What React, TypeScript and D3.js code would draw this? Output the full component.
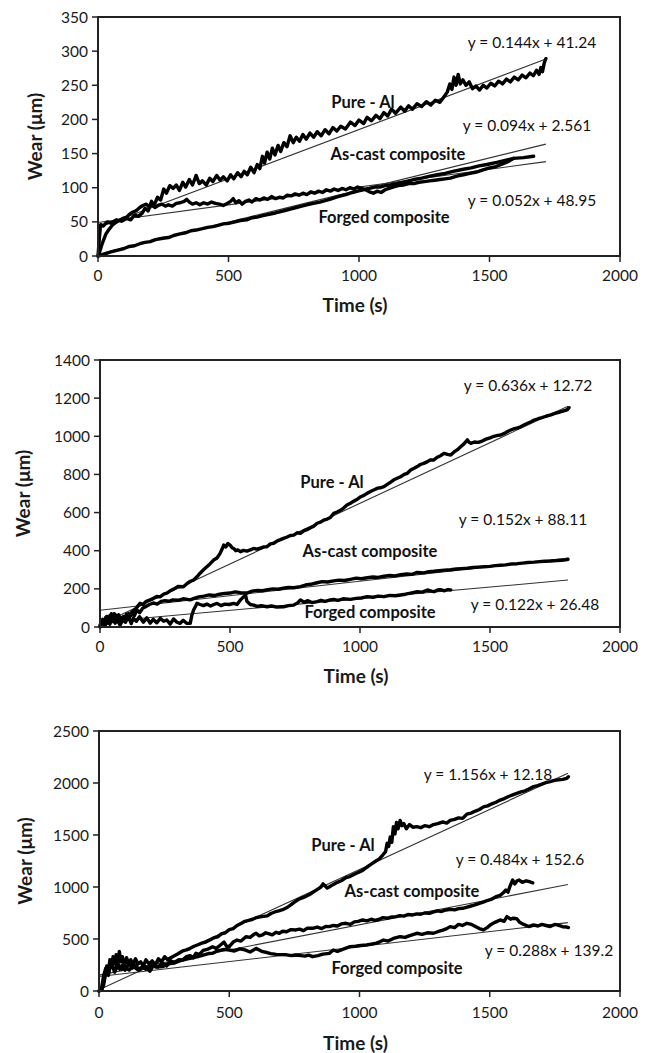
import React from "react";
import * as d3 from "d3";

// ---------- DATA ----------
const X_TICKS = [0, 500, 1000, 1500, 2000];
const P1_Y_TICKS = [0, 50, 100, 150, 200, 250, 300, 350];
const P2_Y_TICKS = [0, 200, 400, 600, 800, 1000, 1200, 1400];
const P3_Y_TICKS = [0, 500, 1000, 1500, 2000, 2500];

const SERIES_NAMES = ["Pure - Al", "As-cast composite", "Forged composite"];

// panel 1 (slopes / intercepts of linear fits)
const P1_SLOPES = [0.144, 0.094, 0.052];
const P1_INTERCEPTS = [41.24, 2.561, 48.95];
const P1_EQS = ["y = 0.144x + 41.24", "y = 0.094x + 2.561", "y = 0.052x + 48.95"];
const P1_FIT_END = 1716;

const P2_SLOPES = [0.636, 0.152, 0.122];
const P2_INTERCEPTS = [12.72, 88.11, 26.48];
const P2_EQS = ["y = 0.636x + 12.72", "y = 0.152x + 88.11", "y = 0.122x + 26.48"];
const P2_FIT_END = 1800;

const P3_SLOPES = [1.156, 0.484, 0.288];
const P3_INTERCEPTS = [12.18, 152.6, 139.2];
const P3_EQS = ["y = 1.156x + 12.18", "y = 0.484x + 152.6", "y = 0.288x + 139.2"];
const P3_FIT_END = 1800;

const P1_PURE = [[0,0],[6,30],[10,46],[20,44],[35,50],[50,48],[70,53],[90,51],[110,55],[125,53],[140,60],[155,58],[170,63],[180,70],[192,66],[205,80],[215,74],[228,86],[240,82],[252,98],[262,92],[275,103],[288,99],[300,104],[312,96],[325,108],[336,101],[350,112],[362,104],[376,118],[388,106],[400,110],[415,104],[428,114],[440,109],[455,118],[468,111],[480,116],[495,110],[508,119],[520,113],[535,122],[548,116],[560,124],[572,119],[585,130],[598,122],[610,134],[620,128],[630,146],[638,136],[648,152],[658,142],[668,158],[678,148],[690,162],[700,153],[712,166],[724,160],[736,176],[748,166],[760,174],[772,168],[785,178],[798,171],[812,180],[826,174],[840,182],[855,176],[870,185],[885,179],[900,188],[915,183],[930,190],[948,186],[967,196],[985,191],[1000,199],[1018,194],[1031,203],[1048,198],[1065,206],[1080,201],[1095,210],[1110,205],[1125,215],[1140,209],[1160,218],[1175,212],[1190,220],[1205,215],[1222,223],[1240,219],[1258,226],[1275,221],[1292,228],[1310,225],[1325,233],[1338,240],[1348,252],[1356,244],[1364,262],[1372,250],[1380,266],[1388,252],[1398,258],[1410,250],[1422,255],[1435,245],[1448,249],[1462,243],[1476,250],[1490,246],[1505,253],[1520,249],[1535,256],[1550,252],[1565,259],[1580,255],[1595,262],[1610,258],[1625,265],[1640,261],[1655,268],[1668,264],[1680,272],[1690,266],[1697,276],[1703,270],[1710,283],[1716,289]];

const P1_CAST = [[0,0],[20,2],[40,5],[60,7],[80,9],[100,11],[120,14],[140,15],[160,18],[180,20],[200,21],[220,24],[248,26],[270,27],[290,30],[310,32],[335,34],[356,37],[376,38],[400,40],[420,42],[440,43],[460,45],[480,47],[504,48],[525,50],[545,52],[570,53],[590,56],[610,57],[632,59],[655,61],[680,63],[700,65],[720,67],[740,69],[760,71],[780,73],[800,75],[825,77],[850,79],[870,81],[888,83],[910,86],[930,88],[950,90],[975,93],[995,95],[1016,97],[1040,99],[1060,101],[1080,101],[1100,103],[1120,104],[1144,106],[1170,108],[1190,110],[1210,112],[1240,114],[1272,117],[1300,119],[1330,121],[1360,124],[1400,127],[1430,129],[1460,132],[1490,134],[1528,137],[1560,140],[1592,143],[1630,144],[1669,146]];

const P1_FORGED = [[0,0],[8,8],[15,17],[22,24],[30,32],[40,38],[55,45],[68,49],[80,52],[95,55],[110,57],[120,61],[132,64],[145,66],[160,71],[172,74],[185,76],[195,72],[205,75],[218,71],[230,74],[245,76],[258,73],[270,75],[285,73],[300,77],[315,78],[330,80],[340,83],[350,79],[362,76],[376,78],[390,75],[405,78],[420,76],[435,79],[450,77],[465,76],[480,74],[495,77],[508,80],[518,84],[528,78],[540,81],[552,76],[565,80],[578,82],[590,79],[605,84],[620,82],[635,85],[650,83],[665,87],[680,84],[695,86],[710,85],[725,89],[740,88],[755,91],[770,89],[785,92],[800,90],[815,94],[830,92],[845,95],[860,93],[875,97],[890,95],[905,98],[920,96],[935,99],[950,97],[965,100],[980,98],[995,101],[1010,99],[1025,97],[1040,94],[1055,92],[1070,95],[1085,93],[1100,97],[1115,99],[1130,101],[1150,103],[1170,104],[1190,106],[1210,106],[1230,108],[1250,109],[1270,110],[1290,111],[1310,112],[1330,113],[1350,114],[1375,117],[1400,119],[1425,121],[1450,123],[1475,126],[1500,129],[1525,131],[1550,135],[1575,139],[1592,143]];

const P2_PURE = [[0,0],[8,30],[15,12],[22,50],[30,20],[38,60],[46,28],[55,70],[63,35],[72,64],[80,30],[90,55],[100,42],[110,70],[120,60],[128,85],[140,100],[154,124],[165,118],[178,135],[193,142],[205,150],[218,160],[231,158],[245,172],[257,177],[270,190],[285,200],[300,212],[321,211],[335,228],[348,240],[360,246],[372,262],[385,282],[398,300],[411,316],[424,332],[437,351],[450,362],[462,386],[470,410],[476,430],[484,420],[492,438],[501,428],[508,416],[514,412],[522,400],[530,404],[540,395],[552,402],[565,398],[578,404],[590,412],[604,408],[617,414],[630,420],[642,421],[655,436],[668,439],[682,452],[694,458],[706,465],[720,472],[732,480],[745,482],[758,494],[771,491],[785,505],[798,512],[810,520],[822,528],[835,544],[848,550],[860,560],[874,566],[886,574],[899,596],[912,603],[925,612],[938,625],[950,640],[963,649],[976,660],[990,670],[1003,683],[1015,690],[1028,701],[1042,712],[1055,720],[1068,728],[1080,730],[1092,736],[1105,748],[1118,760],[1130,772],[1143,780],[1156,788],[1170,800],[1182,806],[1195,823],[1208,832],[1220,841],[1232,852],[1245,858],[1258,866],[1270,876],[1284,876],[1297,890],[1310,898],[1323,911],[1336,905],[1349,902],[1362,918],[1375,930],[1387,945],[1400,960],[1413,981],[1420,968],[1426,963],[1440,970],[1455,968],[1470,975],[1485,985],[1500,992],[1515,1000],[1530,1005],[1541,1007],[1555,1015],[1568,1025],[1580,1033],[1594,1040],[1606,1044],[1618,1050],[1632,1060],[1645,1068],[1658,1076],[1670,1085],[1685,1092],[1700,1098],[1715,1105],[1734,1112],[1750,1120],[1765,1126],[1780,1132],[1790,1136],[1798,1140],[1804,1150]];

const P2_CAST = [[0,10],[10,40],[18,15],[26,55],[35,25],[44,70],[52,30],[62,62],[72,22],[82,50],[92,35],[102,68],[112,45],[122,78],[132,58],[142,90],[152,75],[165,100],[178,108],[190,118],[205,126],[220,120],[235,134],[250,138],[265,135],[280,142],[300,140],[320,148],[347,142],[365,152],[380,158],[400,162],[420,168],[440,165],[460,172],[480,176],[500,178],[520,184],[540,180],[565,178],[585,188],[605,192],[625,190],[645,196],[665,200],[685,198],[705,204],[725,208],[745,206],[771,212],[790,220],[810,224],[835,232],[855,238],[875,236],[899,242],[920,246],[940,244],[963,250],[985,256],[1005,253],[1028,258],[1050,262],[1070,260],[1092,266],[1115,270],[1135,268],[1156,274],[1180,278],[1200,276],[1220,286],[1245,284],[1265,290],[1284,292],[1305,295],[1325,298],[1349,300],[1370,304],[1390,306],[1413,308],[1435,312],[1455,314],[1477,316],[1500,318],[1520,322],[1541,324],[1560,326],[1580,330],[1605,332],[1625,335],[1645,338],[1670,340],[1690,343],[1710,345],[1734,346],[1755,348],[1775,350],[1790,352],[1800,355]];

const P2_FORGED = [[0,2],[10,35],[20,8],[30,48],[38,15],[48,55],[58,20],[68,45],[77,10],[88,38],[98,25],[110,52],[120,18],[128,45],[140,30],[152,54],[167,25],[180,48],[193,20],[205,40],[218,22],[232,45],[245,30],[257,37],[270,15],[283,42],[296,25],[308,19],[320,35],[333,20],[347,19],[353,60],[360,89],[368,110],[373,124],[385,118],[398,112],[411,120],[425,110],[438,118],[450,124],[465,112],[480,120],[497,118],[514,124],[527,118],[540,142],[552,158],[560,166],[565,135],[578,118],[591,115],[605,108],[620,112],[642,106],[660,110],[680,104],[706,106],[725,112],[745,115],[758,124],[771,142],[785,130],[800,138],[815,128],[835,133],[850,140],[865,134],[886,142],[899,145],[915,140],[935,148],[963,145],[985,150],[1005,152],[1028,159],[1050,156],[1070,162],[1092,159],[1115,166],[1135,164],[1156,168],[1175,172],[1195,178],[1220,185],[1240,183],[1259,194],[1275,188],[1284,185],[1298,194],[1310,196],[1325,190],[1338,196],[1349,194]];

const P3_PURE = [[0,0],[10,10],[18,60],[24,150],[30,240],[36,190],[42,300],[48,230],[54,330],[60,260],[66,350],[72,250],[78,380],[84,280],[90,330],[98,240],[106,320],[114,260],[122,300],[130,250],[140,310],[150,260],[160,280],[170,240],[180,300],[192,260],[204,290],[216,250],[228,310],[240,280],[252,330],[264,300],[276,320],[290,340],[305,360],[321,385],[336,395],[350,410],[365,430],[380,445],[395,460],[410,470],[425,490],[440,510],[455,520],[470,550],[485,560],[500,590],[515,600],[530,630],[545,650],[560,670],[575,680],[590,690],[603,705],[618,712],[632,718],[646,722],[660,745],[675,760],[690,770],[705,782],[720,800],[735,825],[750,855],[765,880],[780,895],[795,910],[810,930],[825,955],[840,980],[852,1000],[860,1030],[868,1010],[876,990],[885,1003],[900,1025],[915,1045],[930,1060],[948,1090],[963,1100],[978,1120],[995,1140],[1012,1160],[1028,1190],[1045,1220],[1060,1245],[1076,1270],[1090,1310],[1100,1340],[1106,1420],[1112,1390],[1118,1480],[1124,1430],[1130,1580],[1136,1510],[1142,1620],[1148,1560],[1156,1640],[1163,1590],[1170,1610],[1180,1560],[1192,1600],[1205,1575],[1220,1580],[1235,1570],[1250,1590],[1268,1580],[1284,1600],[1300,1610],[1320,1625],[1335,1615],[1348,1640],[1365,1650],[1380,1665],[1396,1660],[1412,1700],[1428,1710],[1445,1730],[1460,1745],[1476,1770],[1492,1780],[1508,1800],[1524,1815],[1540,1836],[1556,1850],[1572,1870],[1588,1885],[1604,1900],[1620,1915],[1636,1925],[1652,1945],[1668,1965],[1684,1975],[1700,1990],[1716,2005],[1732,2013],[1748,2025],[1764,2030],[1780,2035],[1796,2045],[1802,2060]];

const P3_CAST = [[0,0],[12,20],[20,120],[28,200],[36,150],[44,250],[52,234],[60,180],[70,260],[80,210],[90,250],[100,200],[116,266],[128,220],[140,250],[155,200],[170,240],[180,234],[195,190],[210,250],[225,230],[244,266],[260,240],[275,290],[290,270],[305,300],[321,298],[335,330],[350,340],[362,320],[372,362],[385,350],[400,390],[415,400],[436,426],[450,410],[465,440],[480,470],[490,430],[500,426],[515,470],[530,490],[545,480],[564,522],[580,515],[595,545],[603,555],[615,530],[628,539],[640,560],[654,550],[665,540],[680,565],[692,555],[705,575],[720,570],[735,590],[756,587],[770,595],[785,580],[800,605],[820,603],[838,615],[855,600],[870,620],[884,619],[900,630],[915,625],[930,645],[948,651],[965,640],[980,665],[995,670],[1012,683],[1028,675],[1045,690],[1060,680],[1076,690],[1090,705],[1108,700],[1125,712],[1140,715],[1155,725],[1170,720],[1186,735],[1204,731],[1220,742],[1235,738],[1250,750],[1268,747],[1285,760],[1300,770],[1315,765],[1332,779],[1350,785],[1365,780],[1380,792],[1396,795],[1410,805],[1425,815],[1440,825],[1460,843],[1475,855],[1490,870],[1505,880],[1524,907],[1540,920],[1552,945],[1562,971],[1570,950],[1578,1010],[1588,1067],[1596,1030],[1605,1060],[1613,1067],[1625,1045],[1640,1060],[1652,1051],[1665,1040]];

const P3_FORGED = [[0,0],[10,30],[18,150],[26,220],[34,180],[42,260],[52,234],[62,200],[75,250],[88,210],[100,230],[116,202],[130,240],[150,202],[165,230],[180,210],[200,250],[220,230],[244,234],[262,260],[283,266],[300,280],[321,298],[340,310],[360,320],[380,330],[400,345],[420,360],[436,362],[450,380],[465,390],[480,400],[500,394],[520,385],[540,405],[560,395],[580,375],[603,410],[615,395],[628,378],[645,370],[660,360],[680,352],[700,350],[720,348],[740,340],[756,346],[775,340],[790,335],[805,345],[820,330],[840,340],[860,355],[884,362],[900,394],[915,380],[935,400],[964,426],[985,430],[1005,438],[1027,442],[1045,450],[1065,460],[1080,475],[1092,490],[1110,480],[1130,505],[1156,522],[1175,515],[1190,530],[1220,555],[1240,545],[1260,560],[1284,555],[1300,570],[1320,585],[1335,600],[1348,619],[1365,610],[1380,640],[1395,630],[1412,651],[1430,640],[1445,620],[1460,600],[1476,587],[1490,610],[1505,640],[1520,660],[1540,683],[1555,670],[1566,715],[1580,690],[1590,700],[1604,695],[1615,660],[1630,640],[1650,620],[1668,635],[1685,625],[1700,640],[1716,630],[1732,620],[1750,640],[1765,630],[1780,618],[1796,615],[1802,610]];

// ---------- LAYOUT ----------
const FONT = "Lato, 'Open Sans', sans-serif";

const PANELS = [
  {
    left: 98, right: 620, top: 17, bottom: 256, yMax: 350, yTicks: P1_Y_TICKS,
    series: [P1_PURE, P1_CAST, P1_FORGED],
    slopes: P1_SLOPES, intercepts: P1_INTERCEPTS, eqs: P1_EQS, fitEnd: P1_FIT_END,
    eqPos: [[532, 48], [527, 131], [532, 206]],
    namePos: [[363, 108], [398, 160], [384, 223]],
    wearX: 35, tickBase: 281, timeBase: 312,
  },
  {
    left: 100, right: 620, top: 360, bottom: 627, yMax: 1400, yTicks: P2_Y_TICKS,
    series: [P2_PURE, P2_CAST, P2_FORGED],
    slopes: P2_SLOPES, intercepts: P2_INTERCEPTS, eqs: P2_EQS, fitEnd: P2_FIT_END,
    eqPos: [[528, 391], [523, 525], [535, 610]],
    namePos: [[332, 488], [370, 557], [370, 618]],
    wearX: 23, tickBase: 652, timeBase: 683,
  },
  {
    left: 99, right: 620, top: 731, bottom: 991, yMax: 2500, yTicks: P3_Y_TICKS,
    series: [P3_PURE, P3_CAST, P3_FORGED],
    slopes: P3_SLOPES, intercepts: P3_INTERCEPTS, eqs: P3_EQS, fitEnd: P3_FIT_END,
    eqPos: [[488, 780], [520, 865], [549, 956]],
    namePos: [[343, 851], [412, 897], [397, 974]],
    wearX: 25, tickBase: 1018, timeBase: 1050,
  },
];

function Panel({ p }: { p: any }) {
  const x = d3.scaleLinear().domain([0, 2000]).range([p.left, p.right]);
  const y = d3.scaleLinear().domain([0, p.yMax]).range([p.bottom, p.top]);
  const line = d3
    .line<number[]>()
    .x((d) => x(d[0]))
    .y((d) => y(d[1]));
  const midY = (p.top + p.bottom) / 2;
  const midX = (p.left + p.right) / 2 - 4;
  return (
    <g>
      {p.slopes.map((s: number, i: number) => (
        <line
          key={"fit" + i}
          x1={x(0)}
          y1={y(p.intercepts[i])}
          x2={x(p.fitEnd)}
          y2={y(s * p.fitEnd + p.intercepts[i])}
          stroke="#333"
          strokeWidth={1.1}
        />
      ))}
      {p.series.map((s: number[][], i: number) => (
        <path
          key={"s" + i}
          d={line(s) || ""}
          fill="none"
          stroke="#000"
          strokeWidth={3.4}
          strokeLinejoin="round"
          strokeLinecap="round"
        />
      ))}
      <rect
        x={p.left}
        y={p.top}
        width={p.right - p.left}
        height={p.bottom - p.top}
        fill="none"
        stroke="#222"
        strokeWidth={2}
      />
      {p.yTicks.map((t: number) => (
        <g key={"yt" + t}>
          <line x1={p.left - 6} x2={p.left} y1={y(t)} y2={y(t)} stroke="#222" strokeWidth={1.5} />
          <text
            x={p.left - 10}
            y={y(t) + 5.5}
            textAnchor="end"
            fontSize={15.5}
            fontFamily={FONT}
            fill="#1a1a1a"
          >
            {t}
          </text>
        </g>
      ))}
      {X_TICKS.map((t) => (
        <g key={"xt" + t}>
          <line x1={x(t)} x2={x(t)} y1={p.bottom} y2={p.bottom + 6} stroke="#222" strokeWidth={1.5} />
          <text
            x={x(t)}
            y={p.tickBase}
            textAnchor="middle"
            fontSize={15.5}
            fontFamily={FONT}
            fill="#1a1a1a"
          >
            {t}
          </text>
        </g>
      ))}
      <text
        transform={`translate(${p.wearX + 7},${midY}) rotate(-90)`}
        textAnchor="middle"
        fontSize={19}
        fontWeight="bold"
        fontFamily={FONT}
        fill="#1a1a1a"
      >
        Wear (μm)
      </text>
      <text
        x={midX}
        y={p.timeBase}
        textAnchor="middle"
        fontSize={19}
        fontWeight="bold"
        fontFamily={FONT}
        fill="#1a1a1a"
      >
        Time (s)
      </text>
      {p.eqs.map((e: string, i: number) => (
        <text
          key={"eq" + i}
          x={p.eqPos[i][0]}
          y={p.eqPos[i][1]}
          textAnchor="middle"
          fontSize={15.5}
          fontFamily={FONT}
          fill="#111"
        >
          {e}
        </text>
      ))}
      {SERIES_NAMES.map((n, i) => (
        <text
          key={"nm" + i}
          x={p.namePos[i][0]}
          y={p.namePos[i][1]}
          textAnchor="middle"
          fontSize={16.5}
          fontWeight="bold"
          fontFamily={FONT}
          fill="#111"
        >
          {n}
        </text>
      ))}
    </g>
  );
}

export default function App() {
  return (
    <svg
      width={648}
      height={1053}
      style={{ position: "absolute", left: 0, top: 0, background: "#fff" }}
    >
      <rect width={648} height={1053} fill="#fff" />
      {PANELS.map((p, i) => (
        <Panel key={i} p={p} />
      ))}
    </svg>
  );
}
